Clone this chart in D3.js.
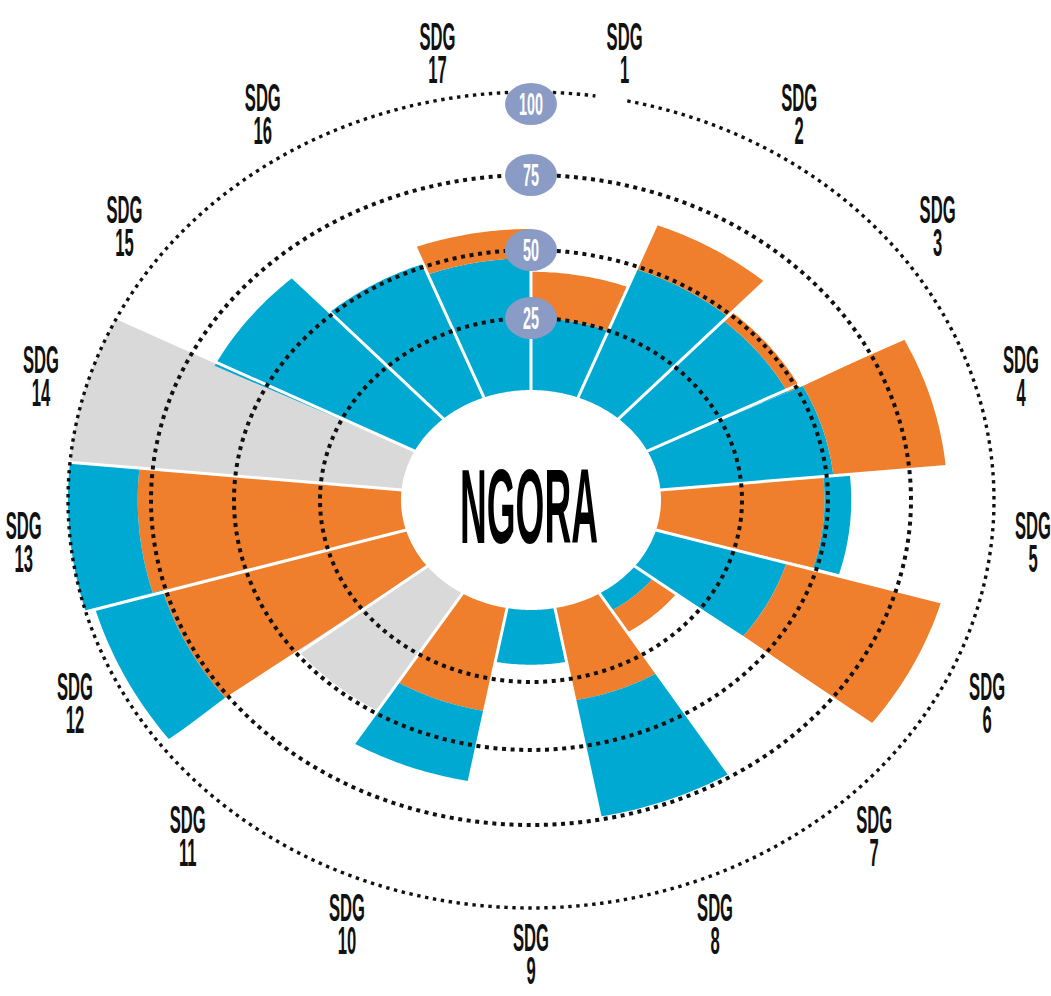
<!DOCTYPE html>
<html>
<head>
<meta charset="utf-8">
<script src="https://cdn.jsdelivr.net/npm/d3@7"></script>
<style>
  html, body { margin: 0; padding: 0; background: #fff; }
  svg { display: block; }
</style>
</head>
<body>
<div id="display"></div>
<script>
// chart values (0-100 per SDG)
const sdgs   = ["1","2","3","4","5","6","7","8","9","10","11","12","13","14","15","16","17"];
const blue   = [25, 49, 47, 52,  8, 41,  7, 41, 19, 25,  0, 21, 21,   0, 67, 51, 47];
const orange = [17, 16,  4, 34, 49, 48,  9, 33,  0, 37,  0, 76, 79,   0,  0,  0, 10];
const grey   = [ 0,  0,  0,  0,  0,  0,  0,  0,  0,  0, 49,  0,  0, 100,  0,  0,  0];
// SDGs whose orange block sits on the inside of the bar
const orangeFirst = ["5","8","10","12","13"];
const rings = [25, 50, 75, 100];
const district = "NGORA";

const width = 1051, height = 996;
const cx = 531, cy = 500;
const colors = {blue: "#00A9D1", orange: "#EF7F2C", grey: "#D9D9D9"};

// the picture is a squashed polar chart, so x and y radii get their own scales
const rX = d3.scaleLinear().domain([0, 25, 50, 75, 100]).range([130, 211, 297, 380, 463]);
const rY = d3.scaleLinear().domain([0, 25, 50, 75, 100]).range([110, 182, 250, 325, 408]);
const angle = d3.scaleBand().domain(sdgs).range([0, 2 * Math.PI]);

let pt = (v, a) => [cx + rX(v) * Math.sin(a), cy - rY(v) * Math.cos(a)];

let arcPts = (v, a0, a1, n) => d3.range(n + 1).map(i => pt(v, a0 + (a1 - a0) * i / n));

let sectorPath = (v0, v1, a0, a1) => {
    let outer = arcPts(v1, a0, a1, 30);
    let inner = arcPts(v0, a1, a0, 30);
    return d3.line()(outer.concat(inner)) + "Z";
};

// build stacked segments per SDG
let segments = [];
let totals = [];
sdgs.forEach((s, i) => {
    let order = orangeFirst.includes(s)
        ? [["orange", orange[i]], ["blue", blue[i]], ["grey", grey[i]]]
        : [["blue", blue[i]], ["orange", orange[i]], ["grey", grey[i]]];
    let base = 0;
    order.forEach(([key, val]) => {
        if (val > 0) {
            segments.push({sdg: s, key: key, v0: base, v1: base + val});
            base += val;
        }
    });
    totals.push(base);
});

const svg = d3.select("#display").append("svg")
    .attr("width", width)
    .attr("height", height);

// bars
svg.append("g")
    .selectAll("path")
    .data(segments)
    .join("path")
        .attr("d", d => sectorPath(d.v0, d.v1, angle(d.sdg), angle(d.sdg) + angle.bandwidth()))
        .attr("fill", d => colors[d.key]);

// white separators between the sectors
svg.append("g")
    .selectAll("path")
    .data(sdgs)
    .join("path")
        .attr("d", (s, i) => {
            let a = angle(s);
            let top = Math.max(totals[i], totals[(i + 16) % 17]) + 2;
            return d3.line()([pt(-2, a), pt(top, a)]);
        })
        .attr("stroke", "#fff")
        .attr("stroke-width", 3);

// dotted rings (the outer one has a small break near the top)
svg.append("g")
    .selectAll("path")
    .data(rings)
    .join("path")
        .attr("d", v => {
            let a0 = v === 100 ? 12 * Math.PI / 180 : 0;
            let a1 = v === 100 ? 2 * Math.PI + 8 * Math.PI / 180 : 2 * Math.PI;
            return d3.line()(arcPts(v, a0, a1, 360));
        })
        .attr("fill", "none")
        .attr("stroke", "#111")
        .attr("stroke-width", v => v === 100 ? 3.4 : 4)
        .attr("stroke-dasharray", v => v === 100 ? "3.4 4.6" : "4 4.6");

// ring value badges
let badges = svg.append("g")
    .selectAll("g")
    .data(rings)
    .join("g")
        .attr("transform", v => `translate(${cx},${cy - rY(v) + (v === 100 ? 12 : 0)})`);
badges.append("ellipse")
    .attr("rx", 26)
    .attr("ry", 21)
    .attr("fill", "#8A9BC6");
let badgeText = badges.append("text")
    .attr("text-anchor", "middle")
    .attr("y", 11)
    .attr("font-family", "'Liberation Sans Narrow', 'Liberation Sans', Arial, sans-serif")
    .attr("font-weight", "bold")
    .attr("font-size", 31)
    .attr("fill", "#fff")
    .text(v => v);
let w100 = badgeText.filter(v => v === 100).node().getComputedTextLength();
badgeText.attr("transform", `scale(${24 / w100},1)`);

// SDG labels around the outside
const labelV = 114;
let labels = svg.append("g")
    .selectAll("g")
    .data(sdgs)
    .join("g");
let labelText = labels.append("text")
    .attr("text-anchor", "middle")
    .attr("font-family", "'Liberation Sans Narrow', 'Liberation Sans', Arial, sans-serif")
    .attr("font-weight", "bold")
    .attr("font-size", 39)
    .attr("fill", "#111");
labelText.append("tspan").attr("x", 0).attr("y", -3).text("SDG");
labelText.append("tspan").attr("x", 0).attr("y", 30).text(s => s);
let wSDG = labelText.select("tspan").node().getComputedTextLength();
labels.attr("transform", s => {
    let p = pt(labelV, angle(s) + angle.bandwidth() / 2);
    return `translate(${Math.min(p[0], 1033)},${p[1]}) scale(${36 / wSDG},1)`;
});

// district name in the hole
let name = svg.append("text")
    .attr("text-anchor", "middle")
    .attr("font-family", "'Liberation Sans Narrow', 'Liberation Sans', Arial, sans-serif")
    .attr("font-weight", "bold")
    .attr("font-size", 106)
    .attr("fill", "#000")
    .text(district);
let wName = name.node().getComputedTextLength();
name.attr("transform", `translate(529,543) scale(${138 / wName},1)`);
</script>
</body>
</html>
